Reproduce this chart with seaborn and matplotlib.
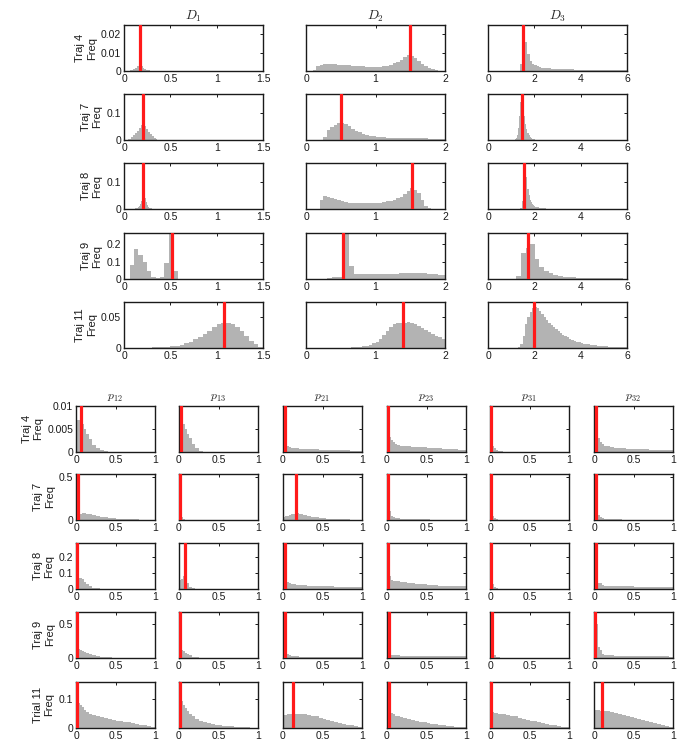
import numpy as np
import pandas as pd
import matplotlib
matplotlib.use("Agg")
import matplotlib.pyplot as plt
from matplotlib.ticker import FuncFormatter
import seaborn as sns

# ---------------- top block: D1, D2, D3 ----------------
TOP_ROWS = ["Traj 4", "Traj 7", "Traj 8", "Traj 9", "Traj 11"]
D_TITLES = [r"$D_1$", r"$D_2$", r"$D_3$"]
D_XMAX = [1.5, 2, 6]
D_XTICKS = [[0, 0.5, 1, 1.5], [0, 1, 2], [0, 2, 4, 6]]
TOP_YLIM = [0.025, 0.17, 0.17, 0.265, 0.074]
TOP_YTICKS = [[0, 0.01, 0.02], [0, 0.1], [0, 0.1], [0, 0.1, 0.2], [0, 0.05]]
D_TRUE = [[0.17, 1.50, 1.50],
          [0.21, 0.50, 1.45],
          [0.21, 1.52, 1.55],
          [0.516, 0.53, 1.71],
          [1.08, 1.40, 2.00]]

# histogram heights, with (first edge, bin width) for each
t4_d1 = [.0003, .0006, .0011, .0018, .0026, .0031, .0027, .0019, .0012, .0007, .0004, .0002, .0001]
t4_d2 = [.0008, .0025, .0033, .0036, .0037, .0037, .0036, .0035, .0033, .0032, .003, .0029, .0027,
         .0026, .0025, .0024, .0023, .0022, .0022, .0023, .0025, .0029, .0034, .0041, .005, .0062,
         .0076, .0086, .0083, .0072, .0055, .004, .0028, .0018, .001, .0005, .0002, .0001]
t4_d3 = [.004, .024, .016, .009, .0055, .0038, .003, .0025, .0021, .0018, .0016,
         .0015, .0014, .0013, .0012, .0012, .0011, .0011, .001, .001, .0009,
         .0009, .0009, .0008, .0008, .0008, .0007, .0007, .0007, .0006, .0006,
         .0006, .0006, .0005, .0005, .0005, .0005, .0005, .0004, .0004, .0004,
         .0004, .0004, .0003, .0003, .0003]
t7_d1 = [.002, .005, .01, .017, .025, .034, .045, .055, .058, .05, .04, .03, .021, .013, .007, .003, .001]
t7_d2 = [.01, .038, .047, .056, .061, .062, .058, .05, .042, .034, .028, .023, .019, .016, .013,
         .011, .01, .0095, .009, .0088, .0086, .0085, .0084, .0083, .0082, .008, .0075, .007,
         .0065, .006, .0055, .005, .0045, .004, .0035]
t7_d3 = [.001, .003, .008, .02, .045, .09, .14, .16, .13, .09, .06, .04, .026, .017, .011,
         .007, .005, .003, .002, .0015, .001, .001]
t8_d1 = [.002, .003, .005, .008, .012, .018, .028, .045, .075, .095, .07, .042, .025, .015, .009,
         .005, .003, .002]
t8_d2 = [.035, .048, .046, .041, .036, .032, .029, .026, .024, .022, .021, .021, .021, .021, .021,
         .022, .023, .024, .026, .028, .031, .035, .04, .046, .055, .066, .078, .07, .058, .034,
         .012, .003]
t8_d3 = [.005, .03, .1, .17, .17, .12, .075, .05, .035, .027, .02, .015, .012, .009, .007, .006,
         .005, .004, .0035, .003, .0025, .002, .0018, .0016, .0014, .0012, .001, .0009, .0008,
         .0007, .0006, .0005]
t9_d1 = [.08, .17, .138, .1, .048, .01, .005, .01, .09, .27, .048]
t9_d2 = [.008, .01, .012, .3, .075, .027, .026, .026, .026, .027, .028, .029, .031, .033, .035,
         .036, .036, .034, .031, .028, .025, .024]
t9_d3 = [.02, .15, .18, .2, .113, .067, .045, .032, .024, .018, .014, .011, .009, .008, .007,
         .006, .005, .005, .004, .004, .003, .003, .003, .002]
t11_d1 = [.0005, .0008, .001, .0013, .0017, .0022, .003, .004, .0055, .0075, .01, .014, .018,
          .023, .028, .034, .038, .041, .041, .039, .034, .027, .019, .012, .006, .002]
t11_d2 = [.0005, .001, .0015, .002, .003, .004, .0055, .0075, .01, .015, .021, .028, .034, .038,
          .04, .041, .041, .042, .041, .038, .035, .032, .029, .026, .023, .02, .017, .014]
t11_d3 = [.001, .006, .02, .038, .05, .058, .064, .066, .064, .06, .055, .05, .045, .041, .037,
          .033, .03, .027, .024, .021, .019, .017, .015, .013, .011, .01, .009, .008, .007,
          .0065, .006, .0055, .005, .0045, .004, .0035, .003, .0028, .0025, .0022, .002, .0018,
          .0016, .0014, .0012, .001, .001]

TOP_HISTS = [
    [(t4_d1, 0.06, 0.02), (t4_d2, 0.10, 0.05), (t4_d3, 1.40, 0.10)],
    [(t7_d1, 0.04, 0.02), (t7_d2, 0.25, 0.05), (t7_d3, 1.10, 0.05)],
    [(t8_d1, 0.12, 0.01), (t8_d2, 0.20, 0.05), (t8_d3, 1.40, 0.05)],
    [(t9_d1, 0.061, 0.047), (t9_d2, 0.296, 0.08), (t9_d3, 1.22, 0.20)],
    [(t11_d1, 0.20, 0.05), (t11_d2, 0.60, 0.05), (t11_d3, 1.30, 0.10)],
]

# ---------------- bottom block: transition probabilities ----------------
BOT_ROWS = ["Traj 4", "Traj 7", "Traj 8", "Traj 9", "Trial 11"]
P_TITLES = [r"$p_{12}$", r"$p_{13}$", r"$p_{21}$", r"$p_{23}$", r"$p_{31}$", r"$p_{32}$"]
BOT_YLIM = [0.01, 0.53, 0.29, 0.68, 0.16]
BOT_YTICKS = [[0, 0.005, 0.01], [0, 0.5], [0, 0.1, 0.2], [0, 0.5], [0, 0.1]]
P_TRUE = [[0.058, 0.02, 0.02, 0.01, 0.01, 0.02],
          [0.03, 0.01, 0.16, 0.01, 0.01, 0.02],
          [0.01, 0.08, 0.03, 0.01, 0.01, 0.02],
          [0.01, 0.01, 0.02, 0.02, 0.02, 0.01],
          [0.01, 0.01, 0.125, 0.02, 0.01, 0.096]]
P_EDGES = [0, .015, .03, .05, .075, .10, .13, .16, .20, .25, .30, .35, .40, .45, .50,
           .55, .60, .65, .70, .75, .80, .85, .90, .95, 1.0]

p_traj4 = [
    [.0068, .007, .007, .0066, .006, .005, .004, .0028, .0016, .0008, .0004, .0002, .0001, .00005, 0, 0, 0, 0, 0, 0, 0, 0, 0, 0],
    [.0082, .0078, .007, .006, .005, .004, .003, .0018, .0008, .0003, .0001, 0, 0, 0, 0, 0, 0, 0, 0, 0, 0, 0, 0, 0],
    [.0055, .003, .0018, .0012, .001, .0009, .0008, .0008, .0007, .0007, .0006, .0006, .0006, .0005, .0005, .0005, .0005, .0004, .0004, .0004, .0004, .0003, .0003, .0003],
    [.0055, .0042, .0032, .0026, .0021, .0018, .0016, .0014, .0013, .0012, .0011, .001, .001, .001, .0009, .0009, .0008, .0008, .0007, .0007, .0006, .0006, .0005, .0005],
    [.0042, .0025, .0014, .0008, .0005, .0003, .0002, .0001, .00005, 0, 0, 0, 0, 0, 0, 0, 0, 0, 0, 0, 0, 0, 0, 0],
    [.0078, .006, .0042, .003, .0022, .0017, .0014, .0012, .001, .0009, .0008, .0008, .0007, .0007, .0007, .0006, .0006, .0006, .0005, .0005, .0005, .0004, .0004, .0004],
]
p_traj7 = [
    [.07, .07, .072, .074, .076, .076, .074, .068, .058, .047, .038, .03, .024, .019, .015, .012, .01, .008, .007, .006, .005, .004, .004, .003],
    [.1, .06, .03, .012, .005, .002, .001, 0, 0, 0, 0, 0, 0, 0, 0, 0, 0, 0, 0, 0, 0, 0, 0, 0],
    [.035, .04, .045, .05, .058, .066, .072, .075, .068, .056, .046, .038, .031, .025, .021, .017, .014, .011, .009, .007, .006, .005, .004, .003],
    [.24, .22, .1, .045, .035, .025, .018, .012, .009, .008, .007, .007, .006, .006, .006, .005, .005, .005, .004, .004, .004, .004, .003, .003],
    [.1, .09, .05, .02, .008, .003, .001, 0, 0, 0, 0, 0, 0, 0, 0, 0, 0, 0, 0, 0, 0, 0, 0, 0],
    [.3, .3, .28, .06, .03, .02, .012, .009, .007, .006, .006, .005, .005, .005, .005, .004, .004, .004, .004, .004, .003, .003, .003, .003],
]
p_traj8 = [
    [.25, .1, .068, .068, .06, .045, .03, .017, .008, .005, .003, .002, .0015, .001, .001, .001, .001, .0008, .0008, .0007, .0006, .0006, .0005, .0005],
    [.058, .058, .06, .08, .075, .04, .015, .006, .003, .002, .001, .001, 0, 0, 0, 0, 0, 0, 0, 0, 0, 0, 0, 0],
    [.11, .1, .09, .045, .038, .033, .03, .028, .026, .024, .022, .021, .02, .019, .018, .017, .016, .015, .014, .013, .012, .011, .011, .01],
    [.12, .11, .08, .055, .052, .05, .048, .046, .043, .04, .037, .034, .032, .029, .027, .025, .024, .022, .021, .02, .019, .018, .017, .016],
    [.1, .06, .03, .012, .006, .003, .002, .001, 0, 0, 0, 0, 0, 0, 0, 0, 0, 0, 0, 0, 0, 0, 0, 0],
    [.2, .15, .06, .04, .035, .028, .022, .019, .018, .017, .017, .016, .016, .016, .015, .015, .015, .014, .014, .014, .013, .013, .013, .012],
]
p_traj9 = [
    [.45, .4, .13, .12, .11, .095, .08, .06, .045, .032, .022, .015, .01, .007, .005, .004, .003, .002, .002, .0015, .001, .001, .001, .001],
    [.14, .13, .12, .1, .08, .06, .04, .02, .008, .004, .002, .001, 0, 0, 0, 0, 0, 0, 0, 0, 0, 0, 0, 0],
    [.16, .15, .07, .06, .045, .035, .028, .024, .02, .018, .016, .015, .014, .013, .012, .012, .011, .011, .01, .01, .009, .009, .009, .008],
    [.7, .7, .7, .05, .045, .04, .038, .036, .035, .034, .033, .032, .031, .03, .03, .029, .028, .028, .027, .026, .026, .025, .025, .024],
    [.17, .12, .07, .04, .02, .012, .007, .004, .002, .001, 0, 0, 0, 0, 0, 0, 0, 0, 0, 0, 0, 0, 0, 0],
    [.55, .52, .5, .16, .12, .06, .045, .04, .037, .035, .033, .032, .031, .03, .029, .028, .027, .026, .026, .025, .024, .024, .023, .022],
]
p_trial11 = [
    [.098, .095, .088, .08, .072, .064, .057, .05, .045, .041, .038, .035, .032, .029, .026, .024, .022, .02, .018, .015, .012, .009, .006, .003],
    [.12, .11, .095, .08, .068, .058, .048, .04, .032, .026, .021, .017, .014, .012, .01, .008, .007, .006, .005, .004, .003, .002, .0015, .001],
    [.045, .046, .046, .047, .047, .047, .048, .048, .048, .047, .046, .043, .04, .036, .033, .029, .026, .022, .019, .015, .012, .009, .006, .003],
    [.07, .065, .058, .052, .047, .043, .04, .037, .034, .031, .028, .025, .022, .02, .017, .015, .013, .011, .009, .008, .006, .005, .004, .003],
    [.055, .055, .054, .053, .052, .05, .049, .047, .045, .042, .04, .036, .032, .029, .026, .023, .02, .017, .014, .011, .009, .007, .005, .003],
    [.06, .061, .061, .061, .06, .06, .059, .058, .056, .052, .048, .045, .042, .038, .035, .031, .027, .023, .02, .016, .013, .01, .007, .004],
]
BOT_HISTS = [p_traj4, p_traj7, p_traj8, p_traj9, p_trial11]

GRAY = "#b3b3b3"
RED = "#ff1a1a"
INK = "#1a1a1a"

sns.set_style("white")
plt.rcParams["font.family"] = ["Liberation Sans", "DejaVu Sans"]
plt.rcParams["mathtext.fontset"] = "cm"
plt.rcParams["font.size"] = 7.5

W, H = 679, 745
fig = plt.figure(figsize=(W / 100, H / 100), dpi=100)


def px_axes(left, top, w, h):
    return fig.add_axes([left / W, 1 - (top + h) / H, w / W, h / H])


def fmt(v, _):
    return "0" if v == 0 else f"{v:g}"


def style(ax, xmax, xticks, ylim, yticks, show_y):
    ax.set_xlim(0, xmax)
    ax.set_ylim(0, ylim)
    ax.set_xticks(xticks)
    ax.set_yticks(yticks)
    ax.xaxis.set_major_formatter(FuncFormatter(fmt))
    ax.yaxis.set_major_formatter(FuncFormatter(fmt))
    ax.tick_params(direction="in", length=2.5, width=0.7, top=True, right=True,
                   labelsize=7.5, colors=INK, pad=2, labelleft=show_y)
    for s in ax.spines.values():
        s.set_linewidth(1.0)
        s.set_color(INK)
    ax.set_xlabel("")
    ax.set_ylabel("")


def draw(ax, heights, edges, truth):
    edges = [float(e) for e in edges]
    df = pd.DataFrame({
        "value": [(a + b) / 2 for a, b in zip(edges[:-1], edges[1:])],
        "freq": [float(h) for h in heights],
    })
    sns.histplot(data=df, x="value", weights="freq", bins=edges, ax=ax, color=GRAY,
                 alpha=1, linewidth=0, stat="count", element="step")
    ax.axvline(truth, color=RED, lw=2.3, zorder=5)


TOP_LEFT = [124, 306, 488]
TOP_TOP = [25, 94, 163, 233, 302]
for i, row in enumerate(TOP_ROWS):
    for j in range(3):
        ax = px_axes(TOP_LEFT[j], TOP_TOP[i], 139, 46)
        heights, start, step = TOP_HISTS[i][j]
        edges = start + step * np.arange(len(heights) + 1)
        draw(ax, heights, edges, D_TRUE[i][j])
        style(ax, D_XMAX[j], D_XTICKS[j], TOP_YLIM[i], TOP_YTICKS[i], j == 0)
        if j == 0:
            ax.set_ylabel(f"{row}\nFreq", fontsize=8, color=INK, labelpad=3)
        if i == 0:
            ax.set_title(D_TITLES[j], fontsize=9.5, pad=4)

BOT_LEFT = [76, 179, 283, 387, 490, 594]
BOT_TOP = [406, 474, 543, 612, 682]
for i, row in enumerate(BOT_ROWS):
    for j in range(6):
        ax = px_axes(BOT_LEFT[j], BOT_TOP[i], 79, 46)
        draw(ax, BOT_HISTS[i][j], P_EDGES, P_TRUE[i][j])
        style(ax, 1, [0, 0.5, 1], BOT_YLIM[i], BOT_YTICKS[i], j == 0)
        if j == 0:
            ax.set_ylabel(f"{row}\nFreq", fontsize=8, color=INK, labelpad=3)
        if i == 0:
            ax.set_title(P_TITLES[j], fontsize=8.5, pad=4)

fig.savefig("out.png", dpi=100)
